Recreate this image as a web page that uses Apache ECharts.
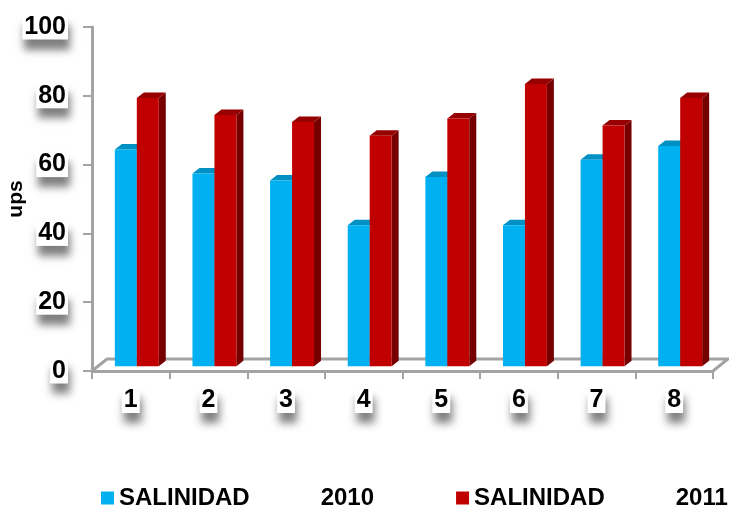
<!DOCTYPE html>
<html>
<head>
<meta charset="utf-8">
<script src="https://cdn.jsdelivr.net/npm/echarts@6/dist/echarts.min.js"></script>
<style>
html, body { margin: 0; padding: 0; background: #fff; }
#main { width: 729px; height: 505px; }
</style>
</head>
<body>
<div id="main"></div>
<script>
const categories = ['1', '2', '3', '4', '5', '6', '7', '8'];
const salinidad2010 = [63, 56, 54, 41, 55, 41, 60, 64];
const salinidad2011 = [78, 73, 71, 67, 72, 82, 70, 78];
const seriesNames = ['SALINIDAD 2010', 'SALINIDAD 2011'];
const yMin = 0, yMax = 100, yStep = 20;

const FONT = '"Liberation Sans", Arial, sans-serif';
const GRAY = '#a3a3a3';
const floorDepth = [15, -12]; // oblique depth of the floor
const barDepth = [7, -5.5];   // depth of each bar
const barOffset = 0.4;        // bars stand at 40% of the floor depth

// label box like Excel: white box + soft shadow underneath
const boxedLabel = {
    color: '#000',
    fontFamily: FONT,
    fontWeight: 'bold',
    fontSize: 25,
    backgroundColor: '#fff',
    padding: [0, 2],
    shadowColor: 'rgba(0,0,0,0.5)',
    shadowBlur: 8,
    shadowOffsetX: 2,
    shadowOffsetY: 10,
};

function barRenderer(leftSide, front, top, side) {
    return function (params, api) {
        const i = api.value(0);
        const v = api.value(1);
        const base = api.coord([i, 0]);
        const peak = api.coord([i, v]);
        const band = api.size([1, 0])[0];
        const w = band * 0.283;
        const ox = floorDepth[0] * barOffset, oy = floorDepth[1] * barOffset;
        const x0 = leftSide ? base[0] + ox - w : base[0] + ox;
        const x1 = x0 + w;
        const yb = base[1] + oy, yt = peak[1] + oy;
        const dx = barDepth[0], dy = barDepth[1];
        return {
            type: 'group',
            children: [
                { type: 'polygon', shape: { points: [[x1, yb], [x1 + dx, yb + dy], [x1 + dx, yt + dy], [x1, yt]] }, style: { fill: side } },
                { type: 'polygon', shape: { points: [[x0, yt], [x1, yt], [x1 + dx, yt + dy], [x0 + dx, yt + dy]] }, style: { fill: top } },
                { type: 'rect', shape: { x: x0, y: yt, width: w, height: yb - yt }, style: { fill: front } },
            ],
        };
    };
}

function floorRenderer(params, api) {
    const c = params.coordSys;
    const yb = c.y + c.height;
    const dx = floorDepth[0], dy = floorDepth[1];
    return {
        type: 'polyline',
        shape: { points: [[c.x, yb], [c.x + dx, yb + dy], [c.x + c.width + dx, yb + dy], [c.x + c.width, yb]] },
        style: { stroke: GRAY, lineWidth: 3, fill: null },
    };
}

const chart = echarts.init(document.getElementById('main'));

chart.setOption({
    animation: false,
    backgroundColor: '#fff',
    grid: { left: 92, right: 16, top: 27, bottom: 134, outerBoundsMode: 'none', containLabel: false },
    legend: {
        left: 96,
        top: 481,
        width: 640,
        itemWidth: 13,
        itemHeight: 13,
        itemGap: 82,
        icon: 'rect',
        data: seriesNames,
        formatter: (name) => {
            const parts = name.split(' ');
            return '{n|' + parts[0] + '}{y|' + parts[1] + '}';
        },
        textStyle: {
            rich: {
                n: { fontFamily: FONT, fontWeight: 'bold', fontSize: 24, color: '#000' },
                y: { fontFamily: FONT, fontWeight: 'bold', fontSize: 24, color: '#000', padding: [0, 0, 0, 71] },
            },
        },
    },
    xAxis: {
        type: 'category',
        data: categories,
        axisLine: { lineStyle: { color: GRAY, width: 3 } },
        axisTick: { show: true, length: 8, lineStyle: { color: GRAY, width: 2 } },
        axisLabel: Object.assign({ margin: 17 }, boxedLabel),
        splitLine: { show: false },
    },
    yAxis: {
        type: 'value',
        min: yMin,
        max: yMax,
        interval: yStep,
        name: 'ups',
        nameLocation: 'middle',
        nameGap: 65,
        nameRotate: 90,
        nameMoveOverlap: false,
        nameTextStyle: { fontFamily: FONT, fontWeight: 'bold', fontSize: 21, color: '#000' },
        axisLine: { show: true, lineStyle: { color: GRAY, width: 3 } },
        axisTick: { show: true, length: 9, lineStyle: { color: GRAY, width: 2 } },
        axisLabel: Object.assign({ margin: 24 }, boxedLabel),
        splitLine: { show: false },
    },
    series: [
        {
            type: 'custom',
            name: 'floor',
            silent: true,
            z: 1,
            renderItem: floorRenderer,
            data: [[0, 0]],
        },
        {
            type: 'custom',
            name: seriesNames[0],
            z: 2,
            itemStyle: { color: '#00b0f0' },
            renderItem: barRenderer(true, '#00b0f0', '#0090c4', '#007ab0'),
            data: salinidad2010.map((v, i) => [i, v]),
        },
        {
            type: 'custom',
            name: seriesNames[1],
            z: 3,
            itemStyle: { color: '#c00000' },
            renderItem: barRenderer(false, '#c00000', '#960000', '#760000'),
            data: salinidad2011.map((v, i) => [i, v]),
        },
    ],
});
</script>
</body>
</html>
